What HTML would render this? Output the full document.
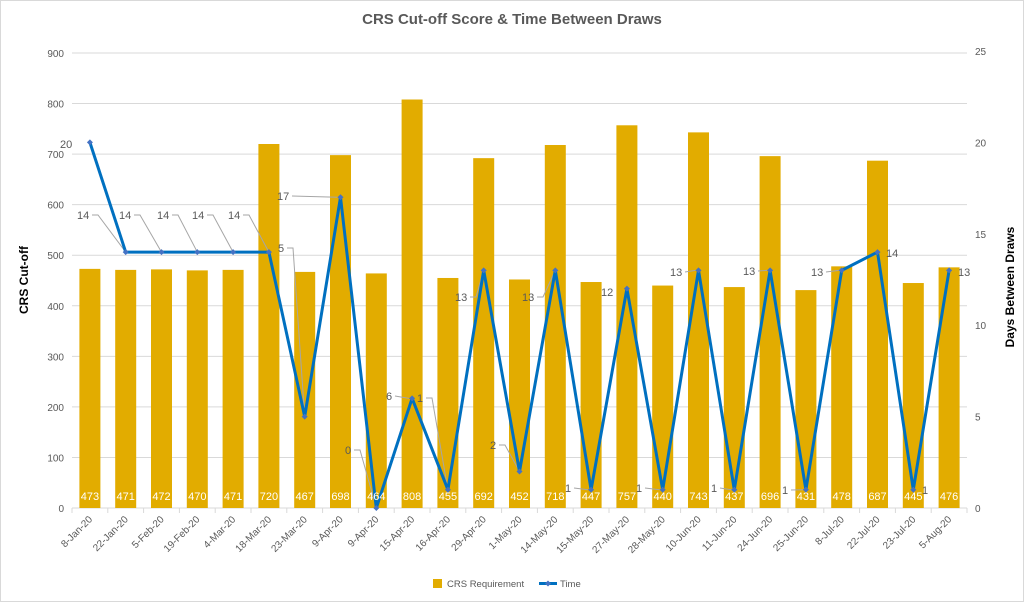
<!DOCTYPE html>
<html><head><meta charset="utf-8"><style>
html,body{margin:0;padding:0;background:#fff}
svg{display:block;font-family:"Liberation Sans",Arial,sans-serif}
</style></head><body>
<svg width="1024" height="602" viewBox="0 0 1024 602">
<rect x="0.5" y="0.5" width="1023" height="601" fill="#fff" stroke="#d9d9d9"/>
<text x="512" y="24" text-anchor="middle" font-size="15" font-weight="bold" fill="#595959">CRS Cut-off Score &amp; Time Between Draws</text>
<g id="grid" stroke="#d9d9d9" stroke-width="1"></g>
<g id="bars" fill="#E2AC00"></g>
<g id="lead" stroke="#a6a6a6" stroke-width="1" fill="none"></g>
<g id="line"></g>
<g id="txt" font-size="11" fill="#595959"></g>
<text transform="translate(28,280) rotate(-90)" text-anchor="middle" font-size="12" font-weight="bold" fill="#000">CRS Cut-off</text>
<text transform="translate(1014,287) rotate(-90)" text-anchor="middle" font-size="12" font-weight="bold" fill="#000">Days Between Draws</text>
<rect x="433" y="579" width="9" height="9" fill="#E2AC00"/>
<text x="447" y="587" font-size="9.5" fill="#595959">CRS Requirement</text>
<line x1="539" y1="583.5" x2="557" y2="583.5" stroke="#0070C0" stroke-width="3"/>
<path d="M548 580.5l3 3-3 3-3-3z" fill="#4472C4"/>
<text x="560" y="587" font-size="9.5" fill="#595959">Time</text>
</svg>
<script>
const NS="http://www.w3.org/2000/svg";
function el(p,t,a,txt){const e=document.createElementNS(NS,t);for(const k in a)e.setAttribute(k,a[k]);if(txt!=null)e.textContent=txt;document.getElementById(p).appendChild(e);return e;}
const L=72,R=967,Y0=508,yL=v=>Y0-v*(455/900),yR=v=>Y0-v*(457/25);
const cats=["8-Jan-20","22-Jan-20","5-Feb-20","19-Feb-20","4-Mar-20","18-Mar-20","23-Mar-20","9-Apr-20","9-Apr-20","15-Apr-20","16-Apr-20","29-Apr-20","1-May-20","14-May-20","15-May-20","27-May-20","28-May-20","10-Jun-20","11-Jun-20","24-Jun-20","25-Jun-20","8-Jul-20","22-Jul-20","23-Jul-20","5-Aug-20"];
const bars=[473,471,472,470,471,720,467,698,464,808,455,692,452,718,447,757,440,743,437,696,431,478,687,445,476];
const days=[20,14,14,14,14,14,5,17,0,6,1,13,2,13,1,12,1,13,1,13,1,13,14,1,13];
const cw=(R-L)/25,cx=i=>L+cw*(i+0.5);
for(let v=0;v<=900;v+=100){const y=yL(v);if(v>0)el("grid","line",{x1:L,x2:R,y1:y,y2:y});el("txt","text",{x:64,y:y+4,"text-anchor":"end","font-size":10},v);}
for(let v=0;v<=25;v+=5)el("txt","text",{x:975,y:yR(v)+4,"font-size":10},v);
el("grid","line",{x1:L,x2:R,y1:Y0,y2:Y0});
for(let i=0;i<=25;i++)el("grid","line",{x1:L+cw*i,x2:L+cw*i,y1:Y0,y2:Y0+5});
cats.forEach((c,i)=>{const x=cx(i);
el("bars","rect",{x:x-10.5,y:yL(bars[i]),width:21,height:Y0-yL(bars[i])});
el("txt","text",{x:x,y:500,"text-anchor":"middle",fill:"#fff","font-size":11},bars[i]);
el("txt","text",{x:0,y:0,"text-anchor":"end","font-size":10,transform:`translate(${x+3},${Y0+12}) rotate(-45)`},c);});
el("line","polyline",{points:days.map((d,i)=>cx(i)+","+yR(d)).join(" "),fill:"none",stroke:"#0070C0","stroke-width":3,"stroke-linejoin":"round"});
days.forEach((d,i)=>{const x=cx(i),y=yR(d);el("line","path",{d:`M${x} ${y-3}l3 3-3 3-3-3z`,fill:"#4472C4"});});
const labs=[[60,148,0,0],[77,219,1,1],[119,219,2,1],[157,219,3,1],[192,219,4,1],[228,219,5,1],[278,252,6,1],[277,200,7,1],[345,454,8,1],[386,400,9,1],[417,402,10,1],[455,301,11,1],[490,449,12,1],[522,301,13,1],[565,492,14,1],[601,296,15,0],[636,492,16,1],[670,276,17,1],[711,492,18,1],[743,275,19,1],[782,494,20,1],[811,276,21,1],[886,257,22,0],[922,494,23,0],[958,276,24,0]];
labs.forEach(([tx,ty,i,ld])=>{const px=cx(i),py=yR(days[i]);const w=String(days[i]).length*6;
el("txt","text",{x:tx,y:ty},days[i]);
if(ld){const sx=tx+w+3,sy=ty-4;
if(Math.abs(sy-py)<6)el("lead","line",{x1:sx,y1:sy,x2:px-3,y2:py});
else el("lead","polyline",{points:`${sx},${sy} ${sx+6},${sy} ${px},${py}`});}});
</script>
</body></html>
